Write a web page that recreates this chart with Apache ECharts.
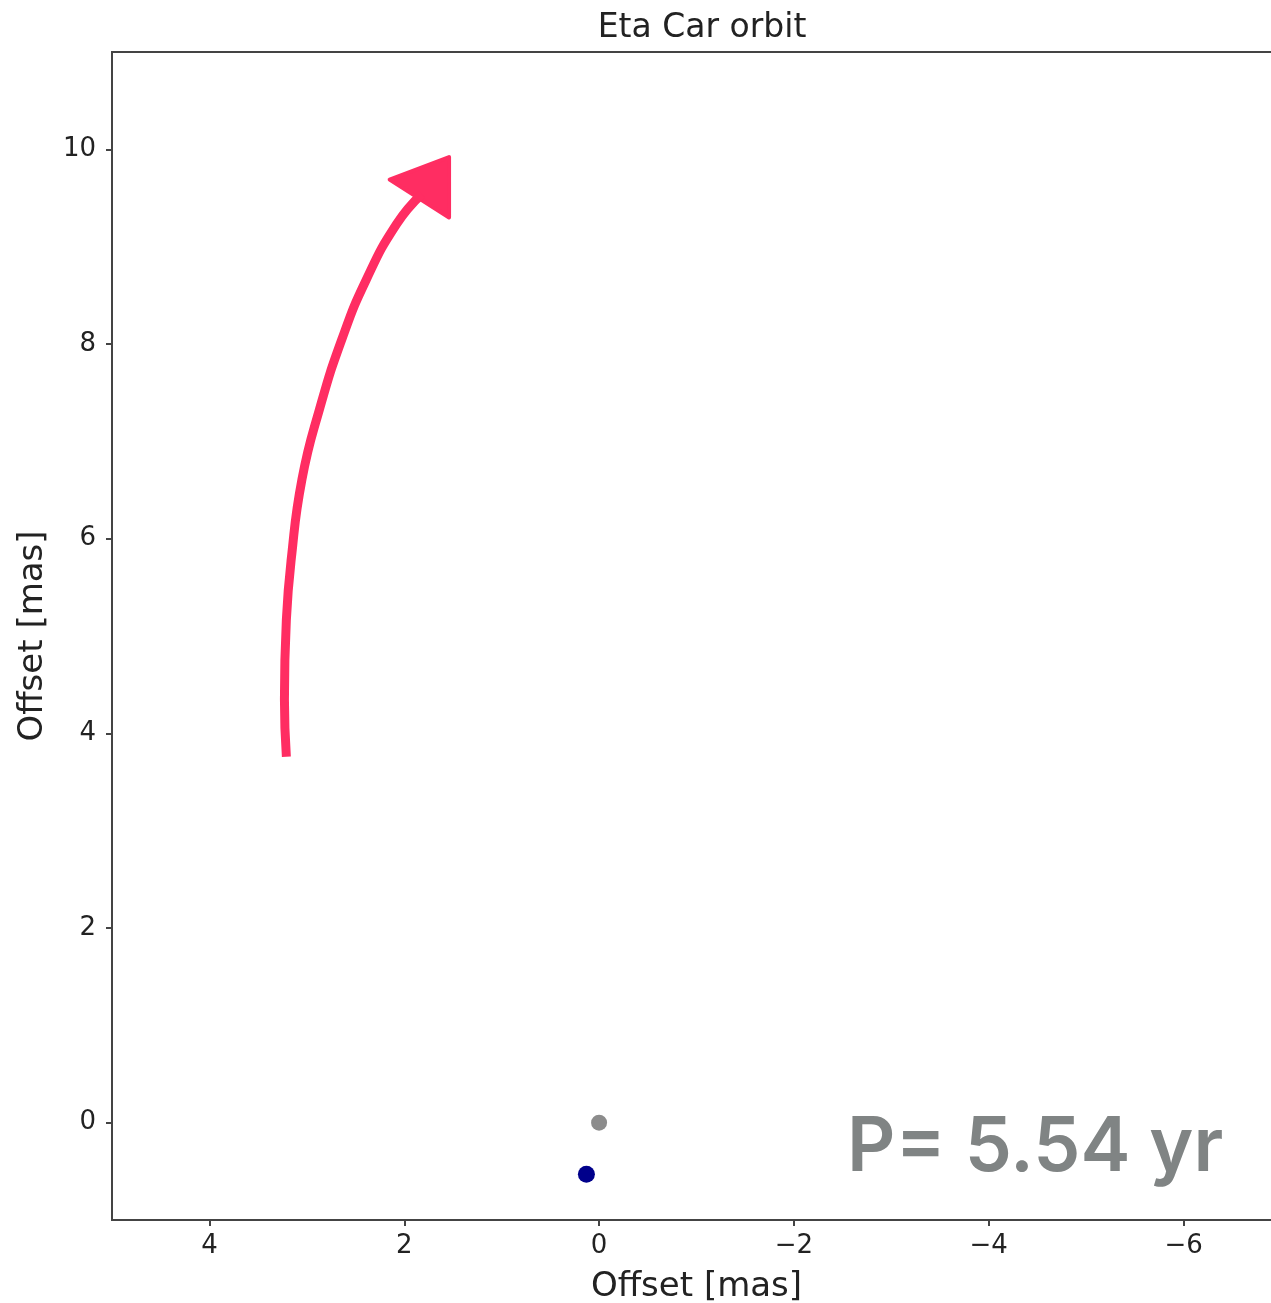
<!DOCTYPE html>
<html>
<head>
<meta charset="utf-8">
<script src="https://cdn.jsdelivr.net/npm/echarts@6/dist/echarts.min.js"></script>
<style>
html,body{margin:0;padding:0;background:#fff;}
#chart{width:1271px;height:1303px;}
</style>
</head>
<body>
<div id="chart"></div>
<script>
// Data
const xTicks = [4, 2, 0, -2, -4, -6];
const yTicks = [0, 2, 4, 6, 8, 10];
const centerPoint = [[0, 0]];
const starPoint = [[0.13, -0.53]];
const arrowShaft = [
  [3.21, 3.76], [3.23, 4.35], [3.21, 5.17], [3.16, 5.79], [3.05, 6.61],
  [2.87, 7.33], [2.64, 8.05], [2.39, 8.66], [2.08, 9.23], [1.82, 9.54]
];
const arrowHead = [[1.54, 9.92], [2.15, 9.69], [1.54, 9.30]];
const periodText = 'P= 5.54 yr';

const chart = echarts.init(document.getElementById('chart'));
const minus = v => (v < 0 ? '\u2212' + Math.abs(v) : String(v));
const font = 'DejaVu Sans';
chart.setOption({
  animation: false,
  backgroundColor: '#fff',
  title: {
    text: 'Eta Car orbit', left: 697, textAlign: 'center', top: 7,
    textStyle: { fontFamily: font, fontSize: 33, fontWeight: 'normal', color: '#222' }
  },
  grid: {
    left: 112, top: 52, width: 1169, height: 1168, outerBoundsMode: 'none', containLabel: false,
    show: true, borderColor: '#444', borderWidth: 2, backgroundColor: 'transparent'
  },
  xAxis: {
    type: 'value', inverse: true, min: -7, max: 5,
    name: 'Offset [mas]', nameLocation: 'middle', nameGap: 50,
    nameTextStyle: { fontFamily: font, fontSize: 34, color: '#222' },
    axisLine: { show: true, onZero: false, lineStyle: { color: '#444', width: 2 } },
    axisTick: { show: true, length: 6, customValues: xTicks, lineStyle: { color: '#444', width: 2 } },
    axisLabel: { customValues: xTicks, formatter: minus, fontFamily: font, fontSize: 26, color: '#222', margin: 13 },
    splitLine: { show: false }
  },
  yAxis: {
    type: 'value', min: -1, max: 11,
    name: 'Offset [mas]', nameLocation: 'middle', nameGap: 62, nameRotate: 90,
    nameTextStyle: { fontFamily: font, fontSize: 34, color: '#222' },
    axisLine: { show: true, onZero: false, lineStyle: { color: '#444', width: 2 } },
    axisTick: { show: true, length: 6, customValues: yTicks, lineStyle: { color: '#444', width: 2 } },
    axisLabel: { customValues: yTicks, formatter: minus, fontFamily: font, fontSize: 26, color: '#222', margin: 16 },
    splitLine: { show: false }
  },
  graphic: [{
    type: 'text', left: 847, top: 1111,
    style: { text: periodText, fontFamily: 'Inter', fontWeight: 600, fontSize: 75, fill: '#808484' }
  }],
  series: [
    { type: 'scatter', data: centerPoint, symbolSize: 16, itemStyle: { color: '#8c8c8c', opacity: 1 } },
    { type: 'scatter', data: starPoint, symbolSize: 17, itemStyle: { color: '#00008b', opacity: 1 } },
    { type: 'line', data: arrowShaft, smooth: true, symbol: 'none', lineStyle: { color: '#ff2d62', width: 9 } },
    {
      type: 'custom', data: [0],
      renderItem: (params, api) => ({
        type: 'polygon',
        shape: { points: arrowHead.map(p => api.coord(p)) },
        style: { fill: '#ff2d62', stroke: '#ff2d62', lineWidth: 4, lineJoin: 'round' }
      })
    }
  ]
});
</script>
</body>
</html>
